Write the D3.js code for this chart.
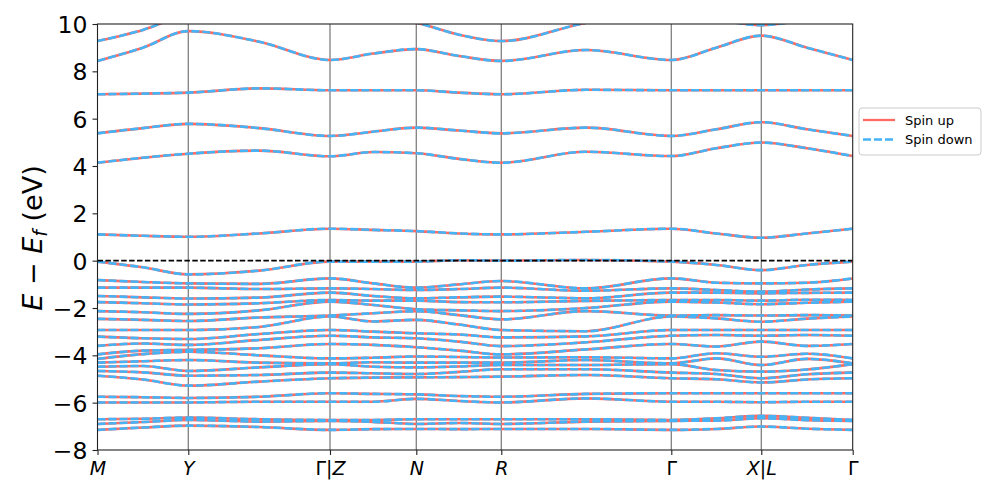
<!DOCTYPE html>
<html>
<head>
<meta charset="utf-8">
<script src="https://cdn.jsdelivr.net/npm/d3@7"></script>
<style>
  html, body { margin: 0; padding: 0; background: #fff; }
  svg { display: block; font-family: "DejaVu Sans", sans-serif; }
</style>
</head>
<body>
<svg id="chart" width="997" height="498"></svg>
<script>
// ---------------- DATA ----------------
const kLabels = ["M", "Y", "Γ|Z", "N", "R", "Γ", "X|L", "Γ"];
const kTickPos = [0, 0.908, 2.325, 3.188, 4.038, 5.738, 6.638, 7.552];
// k positions at which band energies were read (high-symmetry points + segment midpoints)
const kNodes = [0, 0.454, 0.908, 1.617, 2.325, 2.757, 3.188, 3.613, 4.038, 4.888, 5.738, 6.188, 6.638, 7.095, 7.552];

// Conduction bands (eV), one array per band, values at kNodes
const cb1 = [1.11, 1.05, 1.01, 1.15, 1.35, 1.30, 1.25, 1.15, 1.11, 1.22, 1.35, 1.15, 0.97, 1.15, 1.35];
const cb2 = [4.14, 4.35, 4.52, 4.65, 4.41, 4.59, 4.54, 4.30, 4.14, 4.60, 4.42, 4.75, 4.99, 4.75, 4.42];
const cb3 = [5.38, 5.60, 5.78, 5.60, 5.27, 5.45, 5.62, 5.50, 5.38, 5.62, 5.27, 5.55, 5.85, 5.55, 5.27];
const cb4 = [7.03, 7.06, 7.10, 7.28, 7.20, 7.20, 7.20, 7.10, 7.03, 7.22, 7.20, 7.20, 7.20, 7.20, 7.20];
const cb5 = [8.44, 9.00, 9.70, 9.25, 8.48, 8.75, 8.94, 8.65, 8.44, 8.90, 8.48, 9.00, 9.51, 9.00, 8.48];
const cb6 = [9.28, 9.75, 10.4, 10.6, 10.5, 10.3, 10.05, 9.55, 9.28, 10.05, 10.6, 10.2, 9.95, 10.2, 10.6];

// Valence bands: energies (eV, sorted) at each k node
const vbAtM   = [-0.04, -0.82, -1.14, -1.49, -1.75, -2.13, -2.46, -2.93, -3.21, -3.60, -3.96, -4.15, -4.31, -4.48, -4.66, -4.86, -5.75, -5.99, -6.70, -6.90, -7.15];
const vbAtMY  = [-0.28, -0.90, -1.14, -1.55, -1.80, -2.18, -2.50, -2.93, -3.28, -3.50, -3.80, -3.95, -4.25, -4.45, -4.72, -5.02, -5.77, -5.99, -6.68, -6.82, -7.05];
const vbAtY   = [-0.58, -0.96, -1.14, -1.60, -1.85, -2.25, -2.55, -2.93, -3.31, -3.56, -3.77, -3.85, -4.20, -4.66, -4.86, -5.28, -5.80, -5.99, -6.63, -6.73, -6.97];
const vbAtYG  = [-0.42, -0.98, -1.20, -1.56, -1.80, -2.10, -2.40, -2.80, -3.10, -3.35, -3.70, -4.00, -4.31, -4.51, -4.83, -5.11, -5.75, -5.96, -6.70, -6.80, -7.03];
const vbAtG   = [-0.04, -0.75, -1.17, -1.35, -1.66, -1.73, -2.32, -2.36, -2.93, -3.17, -3.52, -4.13, -4.34, -4.37, -4.73, -4.97, -5.60, -5.96, -6.73, -6.77, -7.15];
const vbAtZN  = [-0.04, -0.96, -1.20, -1.49, -1.69, -1.87, -2.22, -2.57, -3.00, -3.24, -3.56, -4.10, -4.29, -4.48, -4.76, -4.94, -5.63, -5.96, -6.73, -6.81, -7.12];
const vbAtN   = [-0.04, -1.14, -1.24, -1.59, -1.69, -2.05, -2.14, -2.50, -3.07, -3.28, -3.66, -4.05, -4.31, -4.51, -4.79, -4.93, -5.65, -5.84, -6.70, -6.90, -7.11];
const vbAtNR  = [ 0.02, -1.00, -1.20, -1.55, -1.75, -2.10, -2.30, -2.70, -3.12, -3.42, -3.80, -4.07, -4.31, -4.47, -4.70, -4.92, -5.72, -5.93, -6.70, -6.86, -7.12];
const vbAtR   = [ 0.00, -0.86, -1.14, -1.52, -1.76, -2.13, -2.48, -2.93, -3.24, -3.61, -3.96, -4.09, -4.31, -4.41, -4.59, -4.90, -5.75, -5.99, -6.70, -6.90, -7.11];
const vbAtRG  = [ 0.03, -1.17, -1.27, -1.59, -1.70, -2.00, -2.13, -2.98, -3.20, -3.45, -3.75, -4.08, -4.20, -4.41, -4.59, -4.83, -5.63, -5.82, -6.70, -6.80, -7.11];
const vbAtGX  = [-0.18, -0.93, -1.24, -1.35, -1.66, -1.77, -2.30, -2.44, -2.93, -3.14, -3.63, -3.91, -4.13, -4.62, -4.79, -5.01, -5.60, -5.96, -6.66, -6.76, -7.11];
const vbAtX   = [-0.40, -0.96, -1.31, -1.38, -1.69, -1.84, -2.32, -2.58, -2.93, -3.17, -3.42, -4.06, -4.41, -4.69, -4.97, -5.15, -5.60, -5.98, -6.56, -6.66, -7.01];
const vbAtLG  = [-0.18, -0.93, -1.22, -1.36, -1.65, -1.78, -2.30, -2.45, -2.93, -3.14, -3.60, -3.93, -4.15, -4.60, -4.80, -5.02, -5.60, -5.96, -6.64, -6.74, -7.10];

const yTicks = [-8, -6, -4, -2, 0, 2, 4, 6, 8, 10];
const seriesNames = ["Spin up", "Spin down"];

// ---------------- BUILD ----------------
const valenceColumns = [vbAtM, vbAtMY, vbAtY, vbAtYG, vbAtG, vbAtZN, vbAtN, vbAtNR, vbAtR, vbAtRG, vbAtG, vbAtGX, vbAtX, vbAtLG, vbAtG];
const valenceBands = d3.transpose(valenceColumns);
const allBands = [cb1, cb2, cb3, cb4, cb5, cb6].concat(valenceBands);

const L = 97.5, R = 852.7, T = 24, B = 450;
const colorUp = "#ff6b63";
const colorDown = "#45b3f5";

const svg = d3.select("#chart");
const x = d3.scaleLinear().domain([kTickPos[0], kTickPos[kTickPos.length - 1]]).range([L, R]);
const y = d3.scaleLinear().domain([-8, 10]).range([B, T]);

svg.append("defs").append("clipPath").attr("id", "plotclip")
  .append("rect").attr("x", L).attr("y", T).attr("width", R - L).attr("height", B - T);

// vertical high-symmetry lines
svg.append("g").selectAll("line").data(kTickPos.slice(1, -1)).join("line")
  .attr("x1", d => x(d)).attr("x2", d => x(d))
  .attr("y1", T).attr("y2", B)
  .attr("stroke", "#808080").attr("stroke-width", 1.3);

const line = d3.line()
  .x((d, i) => x(kNodes[i]))
  .y(d => y(d))
  .curve(d3.curveMonotoneX);

const gBands = svg.append("g").attr("clip-path", "url(#plotclip)");
// spin up: solid red
gBands.append("g").selectAll("path").data(allBands).join("path")
  .attr("d", line).attr("fill", "none")
  .attr("stroke", colorUp).attr("stroke-width", 2.6);
// spin down: dashed blue on top
gBands.append("g").selectAll("path").data(allBands).join("path")
  .attr("d", line).attr("fill", "none")
  .attr("stroke", colorDown).attr("stroke-width", 2.6)
  .attr("stroke-dasharray", "8,3");

// Fermi level
svg.append("line")
  .attr("x1", L).attr("x2", R).attr("y1", y(0)).attr("y2", y(0))
  .attr("stroke", "#000").attr("stroke-width", 1.6)
  .attr("stroke-dasharray", "5.5,2.4");

// frame
svg.append("rect").attr("x", L).attr("y", T).attr("width", R - L).attr("height", B - T)
  .attr("fill", "none").attr("stroke", "#222").attr("stroke-width", 1.1);

// Y axis
const yAxis = d3.axisLeft(y).tickValues(yTicks).tickSize(5).tickPadding(5)
  .tickFormat(d => d < 0 ? "\u2212" + Math.abs(d) : String(d));
const gy = svg.append("g").attr("transform", `translate(${L},0)`).call(yAxis);
gy.select(".domain").remove();
gy.selectAll(".tick line").attr("stroke", "#222").attr("stroke-width", 1.1);
gy.selectAll(".tick text").attr("font-size", 23.5).attr("fill", "#000")
  .attr("font-family", "DejaVu Sans").attr("dy", "0.36em");

// X axis
const xAxis = d3.axisBottom(x).tickValues(kTickPos).tickSize(5).tickPadding(4).tickFormat("");
const gx = svg.append("g").attr("transform", `translate(0,${B})`).call(xAxis);
gx.select(".domain").remove();
gx.selectAll(".tick line").attr("stroke", "#222").attr("stroke-width", 1.1);
gx.selectAll(".tick").each(function(d, i) {
  const t = d3.select(this).append("text")
    .attr("y", 25).attr("text-anchor", "middle")
    .attr("font-size", 19).attr("fill", "#000").attr("font-family", "DejaVu Sans");
  const lab = kLabels[i];
  for (const ch of lab) {
    const italic = !(ch === "Γ" || ch === "|");
    t.append("tspan").attr("font-style", italic ? "italic" : "normal").text(ch);
  }
});

// Y label
const ylab = svg.append("text")
  .attr("transform", `translate(42,${(T + B) / 2 + 1}) rotate(-90)`)
  .attr("text-anchor", "middle").attr("font-size", 27).attr("fill", "#000")
  .attr("font-family", "DejaVu Sans");
ylab.append("tspan").attr("font-style", "italic").text("E");
ylab.append("tspan").text(" \u2212 ");
ylab.append("tspan").attr("font-style", "italic").text("E");
ylab.append("tspan").attr("font-style", "italic").attr("font-size", 19).attr("dy", 5).text("f");
ylab.append("tspan").attr("dy", -5).text(" (eV)");

// Legend
const lg = svg.append("g");
lg.append("rect").attr("x", 859).attr("y", 108).attr("width", 122).attr("height", 47)
  .attr("rx", 3).attr("fill", "#fff").attr("stroke", "#cccccc").attr("stroke-width", 1);
const legendItems = [
  { name: seriesNames[0], color: colorUp, dash: null },
  { name: seriesNames[1], color: colorDown, dash: "8,3" }
];
legendItems.forEach((it, i) => {
  const yy = 120 + i * 19.5;
  lg.append("line").attr("x1", 863).attr("x2", 895).attr("y1", yy).attr("y2", yy)
    .attr("stroke", it.color).attr("stroke-width", 2.3)
    .attr("stroke-dasharray", it.dash);
  lg.append("text").attr("x", 905).attr("y", yy + 4.5).attr("font-size", 13)
    .attr("fill", "#000").attr("font-family", "DejaVu Sans").text(it.name);
});
</script>
</body>
</html>
